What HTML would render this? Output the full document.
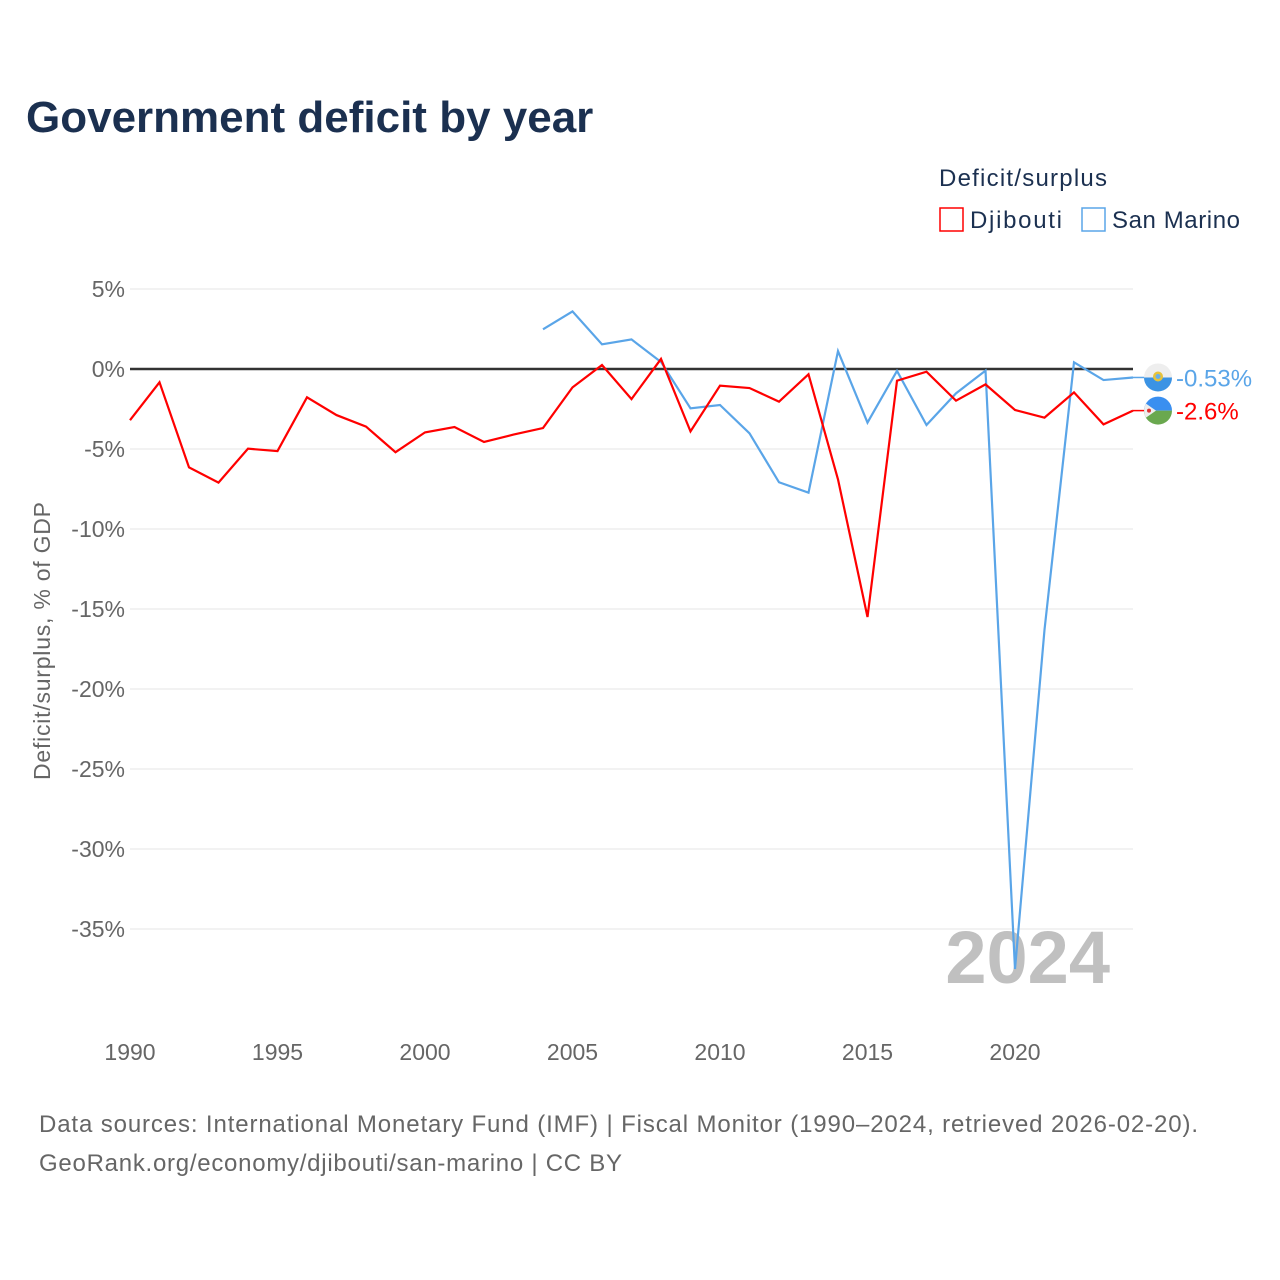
<!DOCTYPE html>
<html><head><meta charset="utf-8">
<style>
body{margin:0;background:#fff;font-family:"Liberation Sans",sans-serif;}
#wrap{position:relative;width:1280px;height:1280px;overflow:hidden;}
</style></head>
<body>
<div id="wrap">
<svg id="chart" width="1280" height="1280" xmlns="http://www.w3.org/2000/svg">
<text x="26" y="132" font-size="44" font-weight="bold" fill="#1b3050">Government deficit by year</text>
<text x="939" y="186" font-size="24" fill="#1b3050" textLength="168">Deficit/surplus</text>
<g>
<rect x="940" y="208" width="23" height="23" fill="none" stroke="#ff0000" stroke-width="1.5"/>
<text x="970" y="228" font-size="24" fill="#1b3050" textLength="92">Djibouti</text></g>
<g>
<rect x="1082" y="208" width="23" height="23" fill="none" stroke="#5aa5e8" stroke-width="1.5"/>
<text x="1112" y="228" font-size="24" fill="#1b3050" textLength="128">San Marino</text></g>
<g id="grid"></g>
<text x="1110" y="983" font-size="74" font-weight="bold" fill="#c0c0c0" text-anchor="end">2024</text>
<g id="marks"></g>
<text transform="translate(50,641) rotate(-90)" font-size="23" fill="#666" text-anchor="middle" textLength="278">Deficit/surplus, % of GDP</text>
<text x="39" y="1132" font-size="24" fill="#666" textLength="1159">Data sources: International Monetary Fund (IMF) | Fiscal Monitor (1990–2024, retrieved 2026-02-20).</text>
<text x="39" y="1171" font-size="24" fill="#666" textLength="583">GeoRank.org/economy/djibouti/san-marino | CC BY</text>
</svg>
</div>
<script>
const years=[1990,1991,1992,1993,1994,1995,1996,1997,1998,1999,2000,2001,2002,2003,2004,2005,2006,2007,2008,2009,2010,2011,2012,2013,2014,2015,2016,2017,2018,2019,2020,2021,2022,2023,2024];
const djibouti=[-3.2,-0.83,-6.15,-7.1,-4.98,-5.13,-1.77,-2.88,-3.6,-5.2,-3.96,-3.63,-4.56,-4.1,-3.69,-1.15,0.25,-1.88,0.63,-3.9,-1.04,-1.19,-2.04,-0.33,-6.9,-15.5,-0.73,-0.17,-1.98,-0.96,-2.56,-3.04,-1.46,-3.46,-2.6];
const smYears=[2004,2005,2006,2007,2008,2009,2010,2011,2012,2013,2014,2015,2016,2017,2018,2019,2020,2021,2022,2023,2024];
const sanMarino=[2.48,3.6,1.54,1.85,0.44,-2.46,-2.25,-4.02,-7.08,-7.73,1.12,-3.35,-0.12,-3.5,-1.52,-0.1,-37.5,-16.3,0.42,-0.69,-0.53];
const yTicks=[5,0,-5,-10,-15,-20,-25,-30,-35];
const xTicks=[1990,1995,2000,2005,2010,2015,2020];
const NS="http://www.w3.org/2000/svg";
const xs=y=>130+(y-1990)*(1133-130)/34;
const ys=v=>369-v*16;
function mk(tag,attrs,parent){const e=document.createElementNS(NS,tag);for(const k in attrs)e.setAttribute(k,attrs[k]);parent.appendChild(e);return e;}
const grid=document.getElementById('grid'),marks=document.getElementById('marks');
yTicks.forEach(v=>{
  const l=mk('line',{x1:130,x2:1133,y1:ys(v),y2:ys(v),stroke:v===0?'#333':'#e6e6e6','stroke-width':v===0?2.5:1},grid);
  
  
  const t=mk('text',{x:125,y:ys(v)+8,'font-size':23,fill:'#666','text-anchor':'end'},grid);
  t.textContent=v+'%';
  
  
});
xTicks.forEach(y=>{
  const t=mk('text',{x:xs(y),y:1060,'font-size':23,fill:'#666','text-anchor':'middle'},grid);
  t.textContent=y;
  
  
});
function line(xv,yv,color,name){
  const p=mk('polyline',{points:xv.map((x,i)=>xs(x)+','+ys(yv[i])).join(' '),fill:'none',stroke:color,'stroke-width':2.2,'stroke-linejoin':'miter'},marks);
  
  
}
line(smYears,sanMarino,'#5aa5e8','line-san-marino');
line(years,djibouti,'#ff0000','line-djibouti');
function endLabel(v,color,name,txt,flag){
  const y=ys(v);
  mk('line',{x1:1133,x2:1146,y1:y,y2:y,stroke:color,'stroke-width':1.5},marks);
  const g=mk('g',{},marks);
  
  
  flag(g,1158,y);
  const t=mk('text',{x:1176,y:y+9,'font-size':24,fill:color},marks);
  t.textContent=txt;
  
  
}
endLabel(sanMarino[sanMarino.length-1],'#5aa5e8','san-marino','-0.53%',(g,cx,cy)=>{
  mk('circle',{cx,cy,r:14,fill:'#eee'},g);
  mk('path',{d:`M${cx-14},${cy} A14,14 0 0 0 ${cx+14},${cy} Z`,fill:'#3b93e4'},g);
  mk('circle',{cx,cy:cy-1,r:5,fill:'#e8c33a'},g);
  mk('circle',{cx,cy:cy-1,r:2.5,fill:'#6ab0e8'},g);
});
endLabel(djibouti[djibouti.length-1],'#ff0000','djibouti','-2.6%',(g,cx,cy)=>{
  mk('path',{d:`M${cx-14},${cy} A14,14 0 0 1 ${cx+14},${cy} Z`,fill:'#3a8ff0'},g);
  mk('path',{d:`M${cx-14},${cy} A14,14 0 0 0 ${cx+14},${cy} Z`,fill:'#6aa84f'},g);
  mk('path',{d:`M${cx-12},${cy-7} L${cx-2},${cy} L${cx-12},${cy+7} A14,14 0 0 1 ${cx-12},${cy-7} Z`,fill:'#eee'},g);
  mk('circle',{cx:cx-9,cy,r:2,fill:'#d33'},g);
});
</script>
</body></html>
